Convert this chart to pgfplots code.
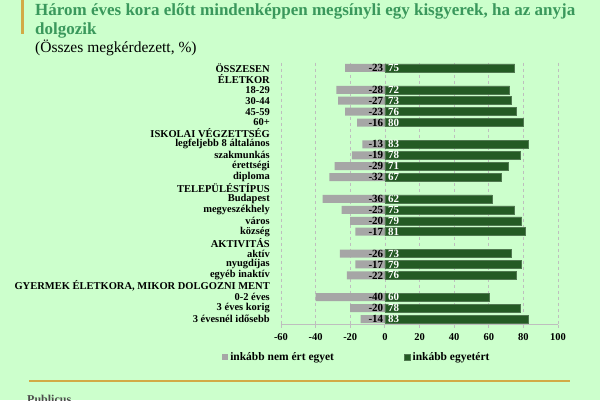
\documentclass[border=0pt]{standalone}
\usepackage{pgfplots}
\pgfplotsset{compat=1.18}
\usepackage{pgfplotstable}
\usepackage{fontspec}
\setmainfont{Liberation Serif}

\definecolor{bgGreen}{RGB}{204,255,204}
\definecolor{titleGreen}{RGB}{58,152,92}
\definecolor{barGray}{RGB}{166,166,166}
\definecolor{barGreen}{RGB}{36,90,36}
\definecolor{barGreenEdge}{RGB}{80,120,80}
\definecolor{gold}{RGB}{210,170,70}
\definecolor{gridGray}{RGB}{190,190,190}

% row index (1 = top), disagree share (negative), agree share
\pgfplotstableread{
row neg pos
1  -23 75
3  -28 72
4  -27 73
5  -23 76
6  -16 80
8  -13 83
9  -19 78
10 -29 71
11 -32 67
13 -36 62
14 -25 75
15 -20 79
16 -17 81
18 -26 73
19 -17 79
20 -22 76
22 -40 60
23 -20 78
24 -14 83
}\datatable

\begin{document}
\begin{tikzpicture}[x=1pt,y=1pt]
\useasboundingbox (0,0) rectangle (600,400);
\fill[bgGreen] (0,0) rectangle (600,400);

% heading
\fill[gold] (21,366) rectangle (23.5,400);
\node[anchor=base west, inner sep=0pt, text=titleGreen, align=left,
      font=\bfseries\fontsize{17}{19}\selectfont] at (35,365)
  {Három éves kora előtt mindenképpen megsínyli egy kisgyerek, ha az anyja\\dolgozik};
\node[anchor=base west, inner sep=0pt, font=\fontsize{15.5}{18}\selectfont] at (35,348)
  {(Összes megkérdezett, \%)};

% footer rule and logo text
\draw[gold, line width=2pt] (29,19) -- (570,19);
\node[anchor=north west, inner sep=0pt, text=black!70, font=\bfseries\fontsize{12}{14}\selectfont] at (27,5) {Publicus};

\begin{axis}[
  at={(281pt,75.5pt)}, anchor=south west,
  scale only axis, width=277pt, height=262pt,
  xmin=-60, xmax=100, ymin=0.5, ymax=24.5,
  y dir=reverse,
  axis x line*=bottom, axis y line*=left,
  x axis line style={draw=gridGray, line width=0.8pt},
  y axis line style={draw=none},
  xtick={-60,-40,...,100},
  tick align=outside,
  major tick length=3pt,
  xtick style={draw=gridGray, line width=0.8pt},
  ytick={1,...,24},
  ytick style={draw=none},
  xmajorgrids,
  major grid style={draw=gridGray, dashed, line width=0.6pt},
  extra x ticks={0},
  extra x tick labels={},
  extra x tick style={grid style={solid, draw=gridGray, line width=0.9pt}},
  /pgf/number format/assume math mode=true,
  xticklabel style={font=\bfseries\fontsize{10.5}{12}\selectfont, yshift=-2pt},
  yticklabel style={font=\bfseries\fontsize{10.5}{12}\selectfont, anchor=east, inner sep=0pt, xshift=-8pt},
  yticklabels={
    ÖSSZESEN, ÉLETKOR, 18-29, 30-44, 45-59, 60+,
    ISKOLAI VÉGZETTSÉG, legfeljebb 8 általános, szakmunkás, érettségi, diploma,
    TELEPÜLÉSTÍPUS, Budapest, megyeszékhely, város, község,
    AKTIVITÁS, aktív, nyugdíjas, egyéb inaktív,
    {GYERMEK ÉLETKORA, MIKOR DOLGOZNI MENT}, 0-2 éves, 3 éves korig, 3 évesnél idősebb},
  legend columns=2,
  legend style={at={(axis description cs:0.274,-0.124)}, anchor=center,
    draw=none, fill=none, font=\bfseries\fontsize{11.5}{13}\selectfont,
    /tikz/every even column/.append style={column sep=68pt}},
  legend image code/.code={\fill[#1] (0pt,-3pt) rectangle (6pt,3pt);},
]
\addplot[xbar, bar width=8pt, bar shift=0pt, fill=barGray, draw=none]
  table[x=neg, y=row] \datatable;
\addlegendentry{inkább nem ért egyet}
\addplot[xbar, bar width=8pt, bar shift=0pt, fill=barGreen, draw=barGreenEdge, line width=0.5pt]
  table[x=pos, y=row] \datatable;
\addlegendentry{inkább egyetért}

% value labels next to the zero line
\addplot[forget plot, draw=none, mark=none, nodes near coords, point meta=explicit,
  every node near coord/.style={anchor=east, inner sep=0pt, xshift=-1.5pt, text=black,
    font=\bfseries\fontsize{11}{12}\selectfont}]
  table[x expr=0, y=row, meta=neg] \datatable;
\addplot[forget plot, draw=none, mark=none, nodes near coords, point meta=explicit,
  every node near coord/.style={anchor=west, inner sep=0pt, xshift=3pt, text=white,
    font=\bfseries\fontsize{11}{12}\selectfont}]
  table[x expr=0, y=row, meta=pos] \datatable;
\end{axis}
\end{tikzpicture}
\end{document}
